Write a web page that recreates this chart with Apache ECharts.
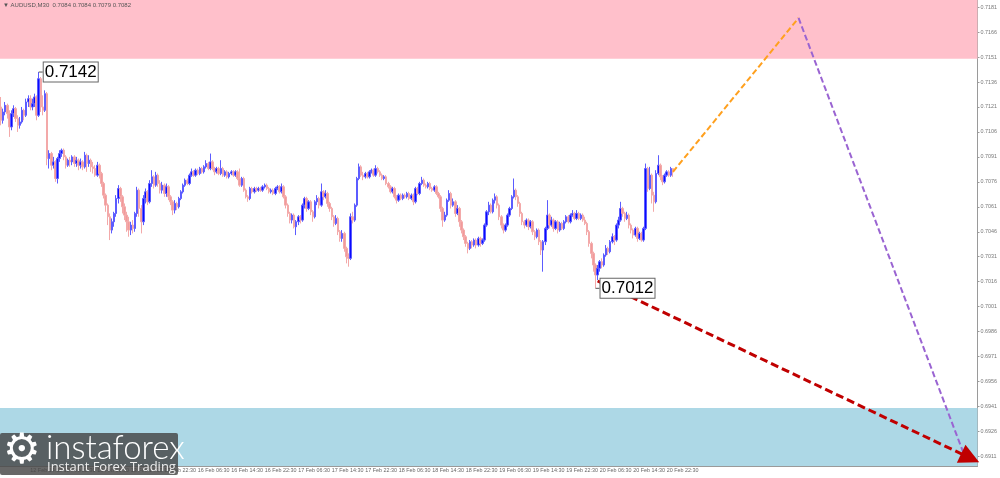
<!DOCTYPE html>
<html lang="en">
<head>
    <meta charset="utf-8">
    <script src="https://cdn.jsdelivr.net/npm/echarts@6/dist/echarts.min.js"></script>
    <title>AUDUSD M30</title>
</head>
<body>
<style>
    html, body, #main {
        width: 100%;
        height: 100%;
        margin: 0;
        background: #fff;
    }
</style>
<div id='main'></div>
<script>
    // prices are kept in pips above 0.7000
    var BASE = 0.7;
    var PIP = 0.0001;
    var firstOpen = 121;
    var closes = [
        113, 118, 122, 117, 109, 117, 120, 114, 110, 112,
        119, 116, 124, 126, 121, 123, 127, 116, 138, 121,
        119, 129, 90, 93, 86, 88, 78, 90, 93, 95,
        91, 86, 89, 88, 91, 87, 89, 86, 88, 85,
        92, 87, 89, 85, 84, 80, 86, 81, 75, 68,
        62, 55, 47, 52, 57, 66, 72, 67, 61, 56,
        52, 47, 50, 48, 57, 71, 60, 52, 66, 70,
        64, 75, 79, 74, 80, 75, 71, 74, 69, 73,
        67, 64, 59, 63, 61, 66, 70, 74, 77, 75,
        80, 82, 80, 83, 81, 84, 82, 85, 87, 84,
        88, 84, 82, 84, 81, 84, 80, 82, 79, 81,
        82, 80, 82, 78, 74, 78, 71, 67, 66, 72,
        70, 72, 71, 72, 71, 73, 74, 72, 70, 71,
        69, 72, 73, 70, 73, 67, 62, 57, 53, 56,
        49, 52, 55, 53, 62, 66, 60, 64, 58, 55,
        64, 66, 62, 70, 67, 69, 63, 60, 55, 51,
        54, 46, 42, 45, 36, 31, 30, 55, 53, 62,
        78, 85, 80, 79, 81, 79, 82, 83, 80, 84,
        82, 80, 78, 79, 75, 73, 70, 72, 67, 65,
        68, 66, 68, 67, 69, 66, 68, 64, 72, 69,
        75, 77, 74, 73, 75, 72, 71, 73, 69, 67,
        60, 53, 56, 65, 69, 62, 64, 57, 60, 52,
        47, 43, 39, 36, 40, 38, 41, 38, 42, 39,
        41, 50, 58, 62, 58, 65, 67, 62, 55, 50,
        47, 50, 56, 60, 67, 71, 67, 63, 57, 52,
        50, 53, 49, 52, 46, 43, 47, 40, 35, 40,
        48, 56, 50, 53, 48, 52, 47, 51, 48, 52,
        55, 52, 56, 57, 54, 57, 54, 56, 53, 51,
        46, 39, 33, 26, 20, 24, 28, 26, 32, 36,
        34, 40, 43, 41, 50, 53, 60, 57, 54, 56,
        50, 47, 44, 48, 42, 45, 41, 48, 84, 72,
        80, 68, 64, 81, 86, 79, 76, 80, 82, 80,
        84, 82
    ];
    var highs = [
        127, 120, 124, 123, 119, 119, 122, 121, 116, 115,
        121, 120, 126, 128, 128, 126, 129, 128, 142, 139,
        128, 131, 130, 95, 94, 91, 89, 91, 95, 96,
        96, 92, 90, 91, 92, 92, 91, 90, 90, 89,
        94, 93, 92, 90, 88, 86, 88, 87, 82, 76,
        69, 63, 57, 54, 58, 68, 74, 73, 68, 63,
        58, 55, 52, 53, 58, 73, 72, 62, 68, 72,
        71, 77, 83, 80, 82, 81, 77, 76, 75, 75,
        74, 68, 65, 65, 64, 67, 71, 75, 78, 78,
        81, 84, 83, 84, 84, 85, 85, 86, 89, 88,
        93, 89, 85, 85, 85, 89, 85, 83, 83, 82,
        83, 83, 83, 83, 84, 79, 79, 72, 68, 73,
        73, 73, 73, 73, 73, 74, 75, 75, 73, 72,
        72, 73, 74, 74, 75, 74, 68, 63, 58, 57,
        57, 53, 56, 56, 63, 67, 67, 65, 65, 59,
        65, 68, 67, 75, 71, 71, 70, 64, 61, 56,
        56, 55, 47, 47, 46, 37, 33, 57, 58, 63,
        79, 87, 86, 82, 82, 82, 83, 84, 84, 86,
        85, 83, 81, 80, 80, 76, 74, 73, 73, 68,
        69, 69, 69, 69, 70, 70, 69, 69, 73, 73,
        76, 79, 78, 75, 76, 76, 73, 74, 74, 70,
        68, 61, 58, 66, 71, 70, 66, 65, 62, 61,
        53, 48, 44, 40, 41, 41, 42, 42, 43, 43,
        42, 51, 59, 64, 63, 66, 69, 68, 63, 56,
        51, 51, 57, 61, 68, 78, 72, 68, 64, 58,
        53, 54, 54, 53, 53, 47, 48, 48, 41, 41,
        49, 65, 57, 55, 54, 53, 53, 52, 52, 53,
        56, 56, 57, 59, 58, 59, 58, 57, 57, 55,
        52, 47, 40, 34, 27, 26, 29, 30, 33, 38,
        37, 41, 45, 44, 51, 55, 64, 61, 58, 58,
        57, 51, 48, 49, 49, 46, 46, 49, 87, 85,
        85, 81, 70, 83, 92, 87, 80, 81, 83, 83,
        85, 84
    ];
    var lows = [
        110, 111, 116, 114, 103, 107, 115, 112, 106, 108,
        111, 113, 115, 121, 119, 119, 121, 113, 115, 118,
        116, 118, 86, 84, 83, 84, 76, 75, 88, 91,
        89, 84, 85, 85, 86, 85, 85, 83, 84, 83,
        84, 82, 85, 82, 81, 79, 79, 78, 73, 66,
        58, 50, 41, 45, 49, 55, 63, 64, 57, 53,
        46, 43, 44, 45, 46, 55, 55, 45, 50, 63,
        62, 63, 73, 72, 73, 73, 69, 69, 67, 67,
        65, 62, 56, 57, 59, 60, 65, 69, 73, 74,
        74, 79, 79, 79, 80, 80, 81, 81, 84, 83,
        83, 83, 80, 81, 80, 80, 79, 79, 78, 78,
        80, 79, 79, 77, 73, 73, 70, 66, 64, 65,
        69, 69, 70, 70, 70, 70, 72, 71, 69, 69,
        68, 68, 71, 69, 69, 66, 60, 55, 51, 51,
        48, 44, 50, 51, 52, 60, 58, 59, 56, 52,
        54, 62, 60, 61, 65, 66, 61, 58, 53, 49,
        50, 44, 40, 40, 34, 27, 25, 29, 51, 52,
        61, 77, 79, 77, 78, 78, 78, 81, 79, 79,
        81, 79, 77, 77, 74, 72, 69, 69, 66, 63,
        64, 65, 65, 66, 66, 65, 65, 62, 63, 68,
        68, 74, 73, 72, 72, 71, 70, 70, 68, 66,
        58, 49, 52, 55, 64, 60, 61, 55, 56, 49,
        45, 41, 37, 33, 35, 36, 37, 36, 37, 37,
        38, 40, 49, 56, 57, 57, 63, 60, 53, 48,
        45, 46, 49, 55, 59, 66, 65, 61, 55, 50,
        48, 49, 47, 48, 44, 41, 42, 38, 32, 22,
        38, 47, 48, 49, 46, 47, 45, 46, 47, 47,
        51, 51, 51, 55, 53, 53, 53, 53, 52, 50,
        44, 37, 30, 22, 12, 17, 22, 24, 25, 31,
        32, 33, 39, 38, 40, 48, 52, 55, 52, 53,
        48, 45, 42, 43, 40, 41, 40, 40, 47, 70,
        71, 63, 58, 63, 80, 77, 74, 75, 79, 79,
        79, 79
    ];

    var slots = 467; // candles plus the empty space on the right
    var xTickIdx = [0, 14, 30, 46, 62, 78, 94, 110, 126, 142, 158,
        174, 190, 206, 222, 238, 254, 270, 286, 302, 318];
    var xTickLabels = ['12 Feb 2020', '12 Feb 14:30', '12 Feb 22:30', '13 Feb 06:30',
        '13 Feb 14:30', '13 Feb 22:30', '16 Feb 06:30', '16 Feb 14:30', '16 Feb 22:30',
        '17 Feb 06:30', '17 Feb 14:30', '17 Feb 22:30', '18 Feb 06:30', '18 Feb 14:30',
        '18 Feb 22:30', '19 Feb 06:30', '19 Feb 14:30', '19 Feb 22:30', '20 Feb 06:30',
        '20 Feb 14:30', '20 Feb 22:30'];
    var yTicks = [0.6911, 0.6926, 0.6941, 0.6956, 0.6971, 0.6986, 0.7001, 0.7016,
        0.7031, 0.7046, 0.7061, 0.7076, 0.7091, 0.7106, 0.7121, 0.7136, 0.7151,
        0.7166, 0.7181];
    var yMin = 0.69052, yMax = 0.71853;

    var pinkZone = [0.7150, yMax];
    var blueZone = [yMin, 0.6940];
    var orangeWave = [[321, 0.7082], [381, 0.71745]];
    var purpleWave = [[381, 0.71745], [461, 0.6909]];
    var redWave = [[285, 0.70164], [463, 0.69100]];
    var extremes = [[18, 0.7142], [284, 0.7012]];
    var priceTags = [0.7085, 0.7082];

    function px(p) {
        return +(BASE + p * PIP).toFixed(4);
    }

    var cats = [];
    for (var i = 0; i < slots; i++) cats.push(String(i));

    var candles = [];
    for (var i = 0; i < closes.length; i++) {
        var o = i === 0 ? firstOpen : closes[i - 1];
        candles.push([px(o), px(closes[i]), px(lows[i]), px(highs[i])]);
    }
    var last = candles[candles.length - 1];
    var header = '\u25BC AUDUSD,M30  ' + [last[0], last[3], last[2], last[1]].map(function (v) {
        return v.toFixed(4);
    }).join(' ');

    var isTick = function (idx) {
        return xTickIdx.indexOf(idx) >= 0;
    };

    var chart = echarts.init(document.getElementById('main'), null, {renderer: 'canvas'});
    var option = {
        animation: false,
        backgroundColor: '#fff',
        grid: {left: 0, right: 19, top: 0, bottom: 12},
        xAxis: {
            type: 'category',
            data: cats,
            boundaryGap: true,
            axisLine: {lineStyle: {color: '#9a9a9a', width: 1}},
            axisTick: {interval: isTick, alignWithLabel: true, length: 3, lineStyle: {color: '#9a9a9a'}},
            axisLabel: {
                interval: isTick,
                align: 'left',
                margin: 2,
                fontSize: 5.4,
                fontFamily: 'Liberation Sans',
                color: '#666',
                formatter: function (v, idx) {
                    var k = xTickIdx.indexOf(+v);
                    return k >= 0 ? xTickLabels[k] : '';
                }
            },
            splitLine: {show: false}
        },
        yAxis: {
            type: 'value',
            position: 'right',
            min: yMin,
            max: yMax,
            axisLine: {show: true, lineStyle: {color: '#9a9a9a'}},
            axisTick: {show: true, length: 2, customValues: yTicks, lineStyle: {color: '#9a9a9a'}},
            axisLabel: {
                customValues: yTicks,
                margin: 3,
                fontSize: 5.4,
                fontFamily: 'Liberation Sans',
                color: '#777',
                formatter: function (v) {
                    return (+v).toFixed(4);
                }
            },
            splitLine: {show: false}
        },
        graphic: [
            {
                type: 'text', x: 3, y: 2, z: 10,
                style: {text: header, font: '6px "Liberation Sans"', fill: '#555', verticalAlign: 'top'}
            },
            {
                type: 'rect', z: 20,
                shape: {x: 0, y: 433, width: 178, height: 42, r: 2},
                style: {fill: 'rgba(70,70,70,0.82)'}
            },
            {
                type: 'text', x: 3, y: 431, z: 21,
                style: {text: '\u2699', font: '42px "DejaVu Sans"', fill: '#fff', verticalAlign: 'top'}
            },
            {
                type: 'text', x: 46, y: 432, z: 21,
                style: {text: 'instaforex', font: '300 33px Lato', fill: '#fff', verticalAlign: 'top'}
            },
            {
                type: 'text', x: 47, y: 461, z: 21,
                style: {text: 'Instant Forex Trading', font: '13px "Open Sans"', fill: '#eee', verticalAlign: 'top'}
            }
        ],
        series: [
            {
                type: 'candlestick',
                data: candles,
                barWidth: 2,
                itemStyle: {
                    color: '#0a0aff',
                    color0: '#f29a9a',
                    borderColor: '#5c5cff',
                    borderColor0: '#f3a9a9',
                    borderWidth: 1
                },
                markArea: {
                    silent: true,
                    data: [
                        [{yAxis: pinkZone[0], itemStyle: {color: '#ffc0cb'}}, {yAxis: pinkZone[1]}],
                        [{yAxis: blueZone[0], itemStyle: {color: '#add8e6'}}, {yAxis: blueZone[1]}]
                    ]
                },
                markPoint: {
                    symbol: 'rect',
                    symbolSize: [4, 1],
                    symbolOffset: [2, 0],
                    itemStyle: {color: '#555'},
                    label: {
                        show: true,
                        position: 'right',
                        distance: 1,
                        color: '#000',
                        fontSize: 17,
                        fontFamily: 'Liberation Sans',
                        backgroundColor: '#fff',
                        borderColor: '#666',
                        borderWidth: 1,
                        padding: [2, 1, 0, 1],
                        formatter: function (p) {
                            return p.data.coord[1].toFixed(4);
                        }
                    },
                    data: extremes.map(function (e) {
                        return {coord: e};
                    })
                },
                markLine: {
                    silent: true,
                    symbol: ['none', 'none'],
                    lineStyle: {opacity: 0},
                    label: {
                        show: true,
                        position: 'end',
                        distance: 2,
                        fontSize: 5.4,
                        fontFamily: 'Liberation Sans',
                        padding: [0, 1],
                        formatter: function (p) {
                            return p.value.toFixed(4);
                        }
                    },
                    data: [
                        {yAxis: priceTags[0], label: {color: '#fff', backgroundColor: '#000'}},
                        {yAxis: priceTags[1], label: {color: '#fff', backgroundColor: '#888'}}
                    ]
                }
            },
            {
                type: 'line',
                data: orangeWave,
                symbol: 'none',
                lineStyle: {color: '#ffa01e', width: 2, type: [6, 3]}
            },
            {
                type: 'line',
                data: purpleWave,
                symbol: 'none',
                lineStyle: {color: '#9a64d2', width: 2, type: [6, 3]}
            },
            {
                type: 'line',
                data: [],
                markLine: {
                    silent: true,
                    symbol: ['none', 'triangle'],
                    symbolSize: 20,
                    lineStyle: {color: '#c00000', width: 3, type: [8, 4]},
                    itemStyle: {color: '#c00000'},
                    label: {show: false},
                    data: [[{coord: redWave[0]}, {coord: redWave[1]}]]
                }
            }
        ]
    };
    chart.setOption(option);
    window.onresize = chart.resize;
</script>
</body>
</html>
